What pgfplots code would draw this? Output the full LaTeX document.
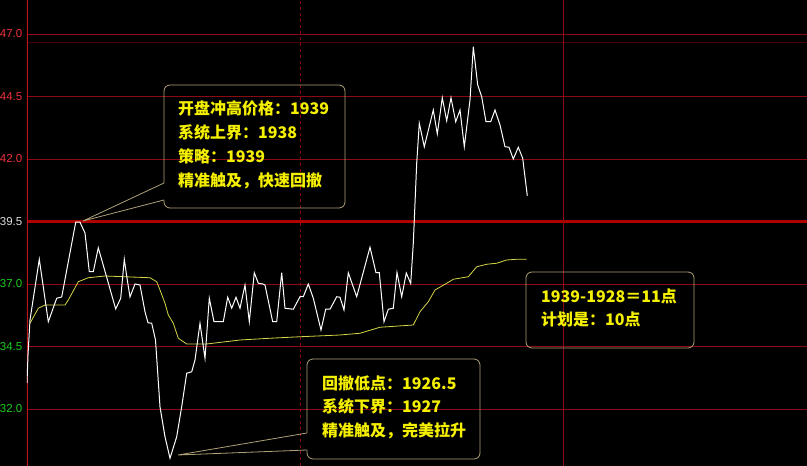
\documentclass[border=0pt]{standalone}
\usepackage{pgfplots}
\pgfplotsset{compat=1.18}
\usepackage{fontspec}
\setmainfont{Liberation Sans}
\newfontfamily\cjk{Noto Sans CJK SC}
\definecolor{gridred}{RGB}{140,10,20}
\definecolor{thickred}{RGB}{175,0,0}
\definecolor{axred}{RGB}{190,20,30}
\definecolor{faintred}{RGB}{70,0,8}
\definecolor{tred}{RGB}{240,50,60}
\definecolor{tgreen}{RGB}{30,205,30}
\definecolor{tgray}{RGB}{220,220,220}
\definecolor{pyellow}{RGB}{215,215,70}
\definecolor{tyellow}{RGB}{245,240,0}
\definecolor{boxc}{RGB}{175,160,120}

\pgfplotstableread{
x y
27 33.04
28 34.16
30 35.56
39.3 37.99
48.3 35.49
56.7 36.43
61.7 36.48
75.7 39.47
80 39.47
85 39.04
89.3 37.49
93.3 37.49
98.3 38.45
115.7 36.00
120.7 36.43
124.3 37.99
127 37.24
130 36.48
135 37.00
140 36.96
145 35.89
148 35.45
151.7 35.43
155.5 34.76
160 32.09
165 30.89
170 30.03
176.7 30.89
181.7 32.09
186.7 33.43
191.7 33.49
195 33.96
200 35.43
205 34.03
209.3 36.43
214 35.49
223.3 35.49
227.7 36.47
231.7 36.03
236 36.47
240 36.03
245 36.96
249.3 35.49
254.3 37.45
258.3 37.03
262.7 37.00
265 36.96
272.7 35.49
276.7 35.49
281.7 37.45
285 36.03
293.3 35.99
300 36.49
303.3 36.49
308.3 37.00
313.3 36.43
321 35.16
325.7 35.99
330 35.99
336.7 36.49
340 36.47
344 35.96
348.3 37.45
356.7 36.49
370 38.47
376 37.45
379.3 37.45
384 35.49
388.3 35.99
393.3 36.03
397 37.46
401.7 36.49
406.3 37.44
410.7 37.02
413.3 38.63
416.7 41.83
419.3 43.43
424.3 42.49
433.3 43.96
437.3 43.00
442.3 44.45
446.7 43.53
451 44.45
455.7 43.49
460 43.96
464.3 42.49
470 44.36
473.3 46.49
477.7 44.96
481.7 44.49
486 43.49
490.7 43.49
495 43.96
500 43.36
505 42.49
509 42.47
513.3 42.00
518.3 42.47
522.7 42.03
527.3 40.53
}\pricedata

\pgfplotstableread{
x y
30 35.43
38.3 36.03
45 36.16
65 36.16
68.3 36.36
78.3 37.09
88.3 37.25
105 37.32
125 37.29
150 37.25
156.7 37.09
160 36.76
165 36.23
168.3 35.76
173.3 35.43
178.3 34.83
186.7 34.60
206.7 34.60
240 34.76
270 34.83
300 34.89
340 34.96
360 35.03
380 35.27
413.3 35.36
420 35.89
428.3 36.29
435 36.76
446.7 37.03
453.3 37.19
468.3 37.29
476.7 37.69
486.7 37.79
496.7 37.83
506.7 37.96
516.7 37.99
526.7 37.99
}\avgdata

\begin{document}
\begin{tikzpicture}[x=1pt,y=1pt]
\fill[black] (-20,-10) rectangle (830,480);
\begin{axis}[
  at={(27pt,0pt)}, anchor=south west,
  scale only axis, width=780pt, height=466pt,
  xmin=27, xmax=807, ymin=29.72, ymax=48.36,
  axis line style={draw=none},
  xtick=\empty,
  ytick={32,34.5,37,39.5,42,44.5,47},
  yticklabels={{\color{tgreen}32.0},{\color{tgreen}34.5},{\color{tgreen}37.0},{\color{tgray}39.5},{\color{tred}42.0},{\color{tred}44.5},{\color{tred}47.0}},
  major tick length=0pt,
  ymajorgrids,
  grid style={gridred, line width=0.9pt},
  yticklabel style={font=\fontsize{11.5}{13}\selectfont, anchor=east, inner sep=0pt, xshift=-4.5pt},
]
\draw[faintred, line width=0.8pt] (axis cs:27,46.65) -- (axis cs:807,46.65);
\draw[thickred, line width=2.4pt] (axis cs:27,39.5) -- (axis cs:807,39.5);
\draw[gridred, line width=0.9pt, dash pattern=on 3pt off 3pt] (axis cs:300,29.72) -- (axis cs:300,48.36);
\draw[gridred, line width=1pt] (axis cs:563,29.72) -- (axis cs:563,48.36);
\draw[axred, line width=1.2pt] (axis cs:27,29.72) -- (axis cs:27,48.36);
\addplot[pyellow, line width=0.8pt] table[x=x,y=y] {\avgdata};
\addplot[white, line width=1pt] table[x=x,y=y] {\pricedata};
\end{axis}
\begin{scope}[x=1pt, y=-1pt, yshift=466pt]
  \draw[boxc, line width=0.8pt, rounded corners=6pt] (164,200) -- (164,208) -- (345,208) -- (345,85) -- (164,85) -- (164,183);
  \draw[boxc, line width=0.8pt] (164,183) -- (83,221) -- (164,200);
  \begin{scope}[every node/.style={anchor=base west, inner sep=0pt, text=tyellow, font=\cjk\bfseries\fontsize{16}{18}\selectfont}]
  \node at (178,115) {开盘冲高价格：1939};
  \node at (178,139) {系统上界：1938};
  \node at (178,163) {策略：1939};
  \node at (178,187) {精准触及，快速回撤};
  \node at (322,390) {回撤低点：1926.5};
  \node at (322,413) {系统下界：1927};
  \node at (322,437) {精准触及，完美拉升};
  \node at (541,303) {1939-1928＝11点};
  \node at (541,326) {计划是：10点};
  \end{scope}
  \draw[boxc, line width=0.8pt, rounded corners=6pt] (307,450) -- (307,459) -- (480,459) -- (480,359) -- (307,359) -- (307,433);
  \draw[boxc, line width=0.8pt] (307,433) -- (178,455) -- (307,450);
  \draw[boxc, line width=0.8pt, rounded corners=6pt] (526,272) rectangle (694,348);
\end{scope}
\pgfresetboundingbox
\useasboundingbox (0,0) rectangle (807,466);
\end{tikzpicture}
\end{document}
